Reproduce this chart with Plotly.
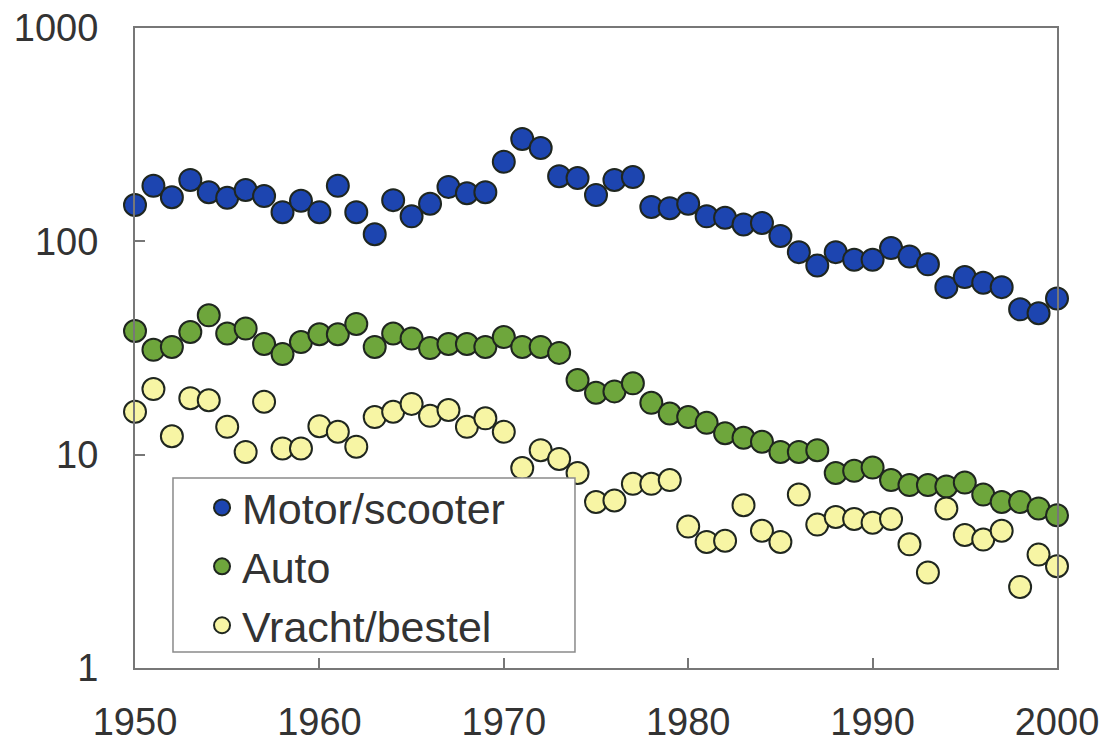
import plotly.graph_objects as go

years = list(range(1950, 2001))

motor_scooter = [148, 182, 161, 194, 170, 160, 174, 163, 137, 155,
                 137, 182, 137, 108, 156, 131, 150, 180, 168, 170,
                 236, 302, 274, 202, 198, 165, 194, 200, 145, 143,
                 150, 131, 129, 120, 122, 106, 89, 77, 89, 82,
                 82, 93, 85, 78, 61, 68, 64, 61, 48, 46,
                 54]

auto = [38, 31, 32, 37.6, 45, 37, 39, 33, 29.6, 33.7,
        36.7, 36.7, 41, 32, 37, 35, 31.6, 33, 33, 32,
        35.6, 32, 32, 30, 22.4, 19.5, 19.8, 21.6, 17.5, 15.6,
        15, 14.1, 12.6, 12.0, 11.5, 10.3, 10.3, 10.5, 8.2, 8.4,
        8.7, 7.6, 7.2, 7.2, 7.1, 7.4, 6.5, 6.0, 6.0, 5.6,
        5.2]

vracht_bestel = [15.9, 20.3, 12.2, 18.4, 18, 13.5, 10.3, 17.7, 10.7, 10.7,
                 13.6, 12.8, 10.9, 15, 15.9, 17.3, 15.2, 16.2, 13.5, 14.8,
                 12.8, 8.65, 10.5, 9.55, 8.2, 6.0, 6.1, 7.3, 7.3, 7.6,
                 4.6, 3.9, 3.95, 5.8, 4.4, 3.9, 6.5, 4.7, 5.1, 5.0,
                 4.8, 5.0, 3.8, 2.8, 5.6, 4.2, 4.0, 4.4, 2.4, 3.4,
                 3.0]

series_names = ["Motor/scooter", "Auto", "Vracht/bestel"]
series_colors = ["#1d45b0", "#6ea63c", "#f7f5a4"]
x_ticks = [1950, 1960, 1970, 1980, 1990, 2000]
y_ticks = [1, 10, 100, 1000]

fig = go.Figure()
for name, vals, col in zip(series_names, [motor_scooter, auto, vracht_bestel], series_colors):
    fig.add_trace(go.Scatter(
        x=years, y=vals, mode="markers", name=name,
        marker=dict(size=22, color=col, line=dict(color="#1f261f", width=2)),
        cliponaxis=False,
    ))

axis_font = dict(family="Liberation Sans, Arial, sans-serif", size=38, color="#333333")

# opaque legend box (drawn above the data, below the legend entries)
fig.add_shape(type="rect", xref="paper", yref="paper",
              x0=0.0412, x1=0.4772, y0=0.025, y1=0.297,
              fillcolor="white", line=dict(color="#8a8a8a", width=1.5),
              layer="above")

fig.update_layout(
    width=1105, height=738,
    margin=dict(l=127, r=56, t=20, b=78, autoexpand=False),
    paper_bgcolor="white", plot_bgcolor="white",
    showlegend=True,
    legend=dict(
        x=0.0727, y=0.3047, xanchor="left", yanchor="top",
        bgcolor="rgba(0,0,0,0)", borderwidth=0,
        font=dict(family="Liberation Sans, Arial, sans-serif", size=43, color="#333333"),
        itemsizing="trace",
    ),
    xaxis=dict(
        range=[1950, 2000], tickvals=x_ticks, ticktext=[str(v) for v in x_ticks],
        showline=True, linecolor="#777777", linewidth=2, mirror=True,
        ticks="inside", ticklen=10, tickcolor="#777777", tickwidth=1.5,
        showgrid=False, zeroline=False, tickfont=axis_font,
        ticklabelstandoff=19, automargin=False, ticklabeloverflow="allow",
    ),
    yaxis=dict(
        type="log", range=[0, 3], tickvals=y_ticks, ticktext=[str(v) for v in y_ticks],
        showline=True, linecolor="#777777", linewidth=2, mirror=True,
        ticks="inside", ticklen=10, tickcolor="#777777", tickwidth=1.5,
        showgrid=False, zeroline=False, tickfont=axis_font,
        ticklabelstandoff=27, automargin=False, ticklabeloverflow="allow",
    ),
)

fig.write_html("out.html")
